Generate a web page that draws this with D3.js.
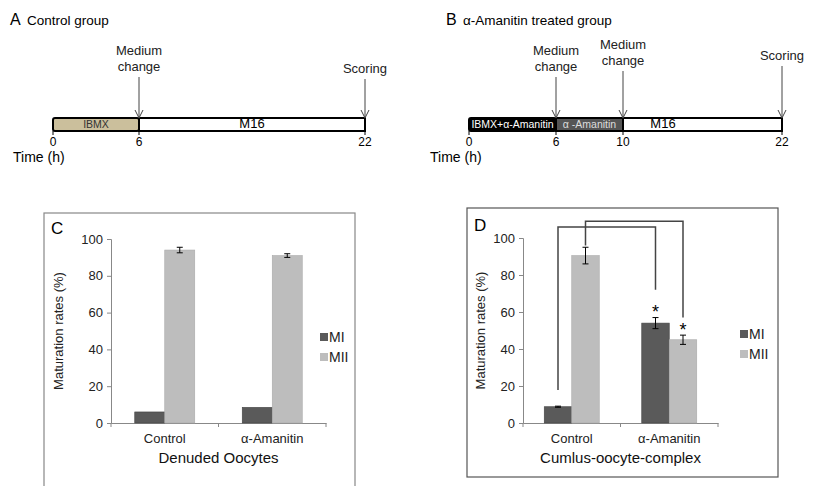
<!DOCTYPE html>
<html><head><meta charset="utf-8">
<script src="https://cdn.jsdelivr.net/npm/d3@7"></script>
<style>
body{margin:0;background:#fff;}
text{font-family:"Liberation Sans",Arial,sans-serif;}
</style></head><body>
<script>
// ---- Data ----
const timeTicksA = [0, 6, 22];
const segLabelsA = ["IBMX", "M16"];
const segStartA = [0, 6];
const segEndA = [6, 22];
const eventsA = ["Medium\nchange", "Scoring"];
const eventTimesA = [6, 22];

const timeTicksB = [0, 6, 10, 22];
const segLabelsB = ["IBMX+α-Amanitin", "α -Amanitin", "M16"];
const segStartB = [0, 6, 10];
const segEndB = [6, 10, 22];
const eventsB = ["Medium\nchange", "Medium\nchange", "Scoring"];
const eventTimesB = [6, 10, 22];

const categories = ["Control", "α-Amanitin"];
const seriesNames = ["MI", "MII"];
const yTicks = [0, 20, 40, 60, 80, 100];

const denudedMI = [6, 8.5];
const denudedMII = [94, 91];
const denudedMIErr = [0, 0];
const denudedMIIErr = [1.5, 1];

const cocMI = [8.8, 54];
const cocMII = [90.5, 45];
const cocMIErr = [0.3, 3];
const cocMIIErr = [4.5, 2.5];

// ---- Drawing ----
const W = 827, H = 486;
const svg = d3.select("body").append("svg").attr("width", W).attr("height", H);
const darkCol = "#5a5a5a", lightCol = "#bdbdbd";

function timeline(opt) {
  const g = svg.append("g");
  const x = d3.scaleLinear().domain(opt.domain).range(opt.range);
  const y0 = 118, y1 = 131;
  g.append("text").attr("x", opt.titleX).attr("y", opt.titleY).attr("font-size", 16).text(opt.letter);
  g.append("text").attr("x", opt.titleX + 17).attr("y", opt.titleY).attr("font-size", 13.5).text(opt.title);
  opt.segStart.forEach((s, i) => {
    g.append("rect").attr("x", x(s)).attr("y", y0).attr("width", x(opt.segEnd[i]) - x(s)).attr("height", y1 - y0)
      .attr("fill", opt.fills[i]).attr("stroke", "#000").attr("stroke-width", 2)
      .attr("rx", i === 0 ? 2 : 0);
    g.append("text").attr("x", opt.labelX ? opt.labelX[i](x) : (x(s) + x(opt.segEnd[i])) / 2).attr("y", y1 - 3)
      .attr("text-anchor", "middle").attr("font-size", opt.segFont[i]).attr("fill", opt.textFills[i]).text(opt.segLabels[i]);
  });
  opt.ticks.forEach(t => {
    g.append("line").attr("x1", x(t)).attr("x2", x(t)).attr("y1", y1).attr("y2", y1 + 4).attr("stroke", "#000");
    g.append("text").attr("x", x(t)).attr("y", 146).attr("text-anchor", "middle").attr("font-size", 12).text(t);
  });
  g.append("text").attr("x", opt.timeX).attr("y", 162).attr("font-size", 14).text("Time (h)");
  opt.eventTimes.forEach((t, i) => {
    const lines = opt.events[i].split("\n");
    const ty = opt.eventY[i];
    lines.forEach((l, k) => g.append("text").attr("x", x(t)).attr("y", ty + k * 16).attr("text-anchor", "middle")
      .attr("font-size", 13).attr("fill", "#222").text(l));
    const top = ty + (lines.length - 1) * 16 + 6;
    g.append("line").attr("x1", x(t)).attr("x2", x(t)).attr("y1", top).attr("y2", y0).attr("stroke", "#444");
    g.append("path").attr("d", `M${x(t) - 4},${y0 - 8} L${x(t)},${y0} L${x(t) + 4},${y0 - 8}`).attr("fill", "none").attr("stroke", "#444");
  });
}

timeline({
  letter: "A", title: "Control group", titleX: 10, titleY: 25,
  domain: [0, 6, 22], range: [53, 139, 365],
  segStart: segStartA, segEnd: segEndA, segLabels: segLabelsA,
  fills: ["#cbbf9c", "#fff"], textFills: ["#333", "#000"], segFont: [10.5, 13],
  ticks: timeTicksA, timeX: 13, events: eventsA, eventTimes: eventTimesA, eventY: [55, 73]
});
timeline({
  letter: "B", title: "α-Amanitin treated group", titleX: 446, titleY: 25,
  domain: [0, 6, 10, 22], range: [469, 556, 623, 782],
  segStart: segStartB, segEnd: segEndB, segLabels: segLabelsB,
  fills: ["#000", "#555", "#fff"], textFills: ["#fff", "#ddd", "#000"], segFont: [10.5, 10.5, 13],
  labelX: [x => (x(0) + x(6)) / 2, x => (x(6) + x(10)) / 2, x => x(10) + 40],
  ticks: timeTicksB, timeX: 430, events: eventsB, eventTimes: eventTimesB, eventY: [55, 49, 60]
});

function barPanel(opt) {
  const g = svg.append("g");
  g.append("rect").attr("x", opt.box[0]).attr("y", opt.box[1]).attr("width", opt.box[2]).attr("height", opt.box[3])
    .attr("fill", "none").attr("stroke", opt.boxCol).attr("stroke-width", 1.2);
  g.append("text").attr("x", opt.letterX).attr("y", opt.letterY).attr("font-size", 17).text(opt.letter);
  const y = d3.scaleLinear().domain([0, 100]).range([423, opt.yTop]);
  const x0 = d3.scaleBand().domain(categories).range(opt.xRange);
  const x1 = d3.scaleBand().domain(seriesNames).range([x0.bandwidth() / 2 - opt.barW, x0.bandwidth() / 2 + opt.barW]);
  const yAx = g.append("g").attr("transform", `translate(${opt.xRange[0]},0)`)
    .call(d3.axisLeft(y).tickValues(yTicks).tickSize(4).tickPadding(4));
  yAx.selectAll("path,line").attr("stroke", "#888");
  yAx.selectAll("text").attr("font-size", 13).attr("fill", "#222").attr("font-family", "Liberation Sans, Arial, sans-serif");
  const xAx = g.append("g").attr("transform", `translate(0,423)`)
    .call(d3.axisBottom(x0).tickSize(0).tickPadding(11));
  xAx.select("path").attr("stroke", "#888");
  xAx.selectAll("text").attr("font-size", 13).attr("fill", "#222").attr("font-family", "Liberation Sans, Arial, sans-serif");
  [opt.xRange[0], (opt.xRange[0] + opt.xRange[1]) / 2, opt.xRange[1]].forEach(v =>
    g.append("line").attr("x1", v).attr("x2", v).attr("y1", 423).attr("y2", 427).attr("stroke", "#888"));
  const vals = [opt.mi, opt.mii], errs = [opt.miErr, opt.miiErr], cols = [darkCol, lightCol];
  seriesNames.forEach((s, si) => {
    categories.forEach((c, ci) => {
      const bx = x0(c) + x1(s), v = vals[si][ci], e = errs[si][ci];
      g.append("rect").attr("x", bx).attr("y", y(v)).attr("width", x1.bandwidth()).attr("height", 423 - y(v))
        .attr("fill", cols[si]).attr("stroke", si === 0 ? "#444" : "#aaa").attr("stroke-width", 0.6);
      if (e > 0) {
        const cx = bx + x1.bandwidth() / 2;
        g.append("line").attr("x1", cx).attr("x2", cx).attr("y1", y(v + e)).attr("y2", y(v - e)).attr("stroke", "#000");
        [v + e, v - e].forEach(q => g.append("line").attr("x1", cx - 3).attr("x2", cx + 3).attr("y1", y(q)).attr("y2", y(q)).attr("stroke", "#000"));
      }
    });
  });
  g.append("text").attr("transform", `translate(${opt.yTitleX},${(423 + opt.yTop) / 2}) rotate(-90)`)
    .attr("text-anchor", "middle").attr("font-size", 13).attr("fill", "#222").text("Maturation rates (%)");
  g.append("text").attr("x", (opt.xRange[0] + opt.xRange[1]) / 2).attr("y", 463).attr("text-anchor", "middle")
    .attr("font-size", 15).attr("fill", "#111").text(opt.xTitle);
  seriesNames.forEach((s, si) => {
    g.append("rect").attr("x", opt.legX).attr("y", opt.legY + si * 20 - 9).attr("width", 8).attr("height", 8).attr("fill", cols[si]);
    g.append("text").attr("x", opt.legX + 9).attr("y", opt.legY + si * 20).attr("font-size", 14).attr("fill", "#222").text(s);
  });
  return { g, x0, x1, y };
}

barPanel({
  letter: "C", letterX: 51, letterY: 234, box: [44, 213, 311, 280], boxCol: "#888",
  yTop: 239, xRange: [111, 326], barW: 30, mi: denudedMI, mii: denudedMII, miErr: denudedMIErr, miiErr: denudedMIIErr,
  yTitleX: 63, xTitle: "Denuded Oocytes", legX: 320, legY: 342
});
const D = barPanel({
  letter: "D", letterX: 474, letterY: 231, box: [467, 208, 311, 269], boxCol: "#555",
  yTop: 238, xRange: [523, 718], barW: 27.5, mi: cocMI, mii: cocMII, miErr: cocMIErr, miiErr: cocMIIErr,
  yTitleX: 485, xTitle: "Cumlus-oocyte-complex", legX: 740, legY: 339
});

// significance brackets in D
const cx = (c, s) => D.x0(c) + D.x1(s) + D.x1.bandwidth() / 2;
const br = D.g.append("g").attr("fill", "none").attr("stroke", "#444").attr("stroke-width", 1.5);
br.append("path").attr("d", `M${cx("Control", "MI")},${D.y(cocMI[0] + 9)} V${D.y(106)} H${cx("α-Amanitin", "MI")} V${D.y(72)}`);
br.append("path").attr("d", `M${cx("Control", "MII")},${D.y(cocMII[0] + cocMIIErr[0] + 1)} V${D.y(109)} H${cx("α-Amanitin", "MII")} V${D.y(57)}`);
[["MI", cocMI[1] + cocMIErr[1] + 5], ["MII", cocMII[1] + cocMIIErr[1] + 5]].forEach(([s, v]) =>
  D.g.append("text").attr("x", cx("α-Amanitin", s)).attr("y", D.y(v) + 10).attr("text-anchor", "middle").attr("font-size", 18).text("*"));
</script>
</body></html>
